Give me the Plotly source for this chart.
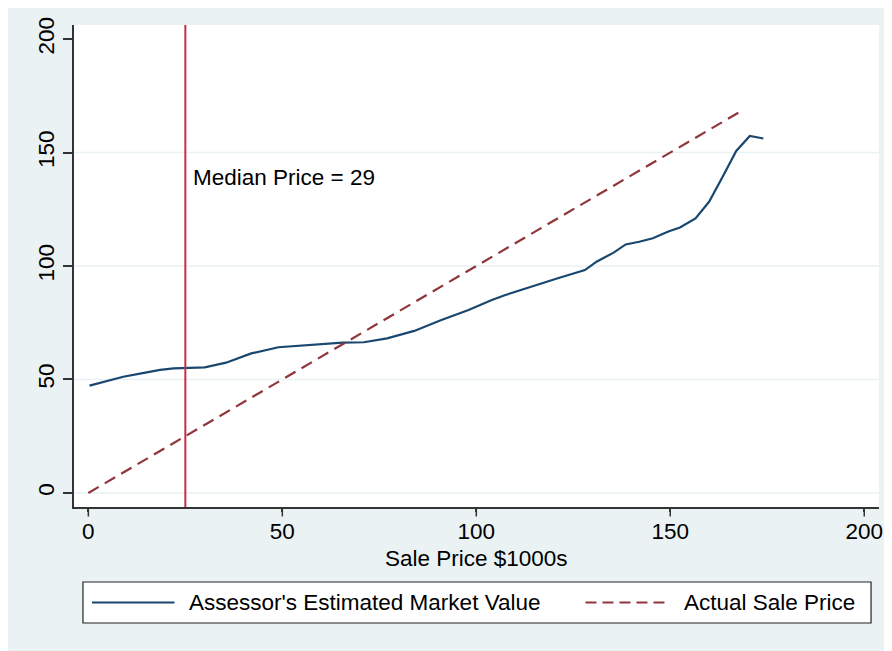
import plotly.graph_objects as go

# ---- data ----
sale_price = [0.3, 5, 9, 14, 18.5, 22, 25, 30, 35.5, 42, 49, 55, 60, 65.5, 71, 77, 84, 91,
              98, 104, 107.5, 114, 121, 128, 131, 135.5, 138.5, 142, 145.5, 149.5, 152.5,
              156.5, 160, 163.5, 167, 170.5, 174]
assessed_value = [47.3, 49.3, 51.2, 52.8, 54.2, 54.9, 55.0, 55.3, 57.4, 61.5, 64.2, 64.9, 65.5,
                  66.2, 66.4, 68.1, 71.4, 76.2, 80.6, 85.0, 87.2, 90.9, 94.6, 98.2, 101.9, 106.0,
                  109.5, 110.7, 112.2, 115.2, 117.0, 121.0, 128.3, 139.3, 150.7, 157.3, 156.2]
actual_x = [0, 168]
actual_y = [0, 168]
median_line_x = 25
median_label = "Median Price = 29"
x_title = "Sale Price $1000s"
x_ticks = [0, 50, 100, 150, 200]
y_ticks = [0, 50, 100, 150, 200]
grid_y = [0, 50, 100, 150]
series_names = ["Assessor's Estimated Market Value", "Actual Sale Price"]

OFF = 8  # page body margin offset
W, H = 892 - OFF, 651 - OFF
L, T = 74 - OFF, 25 - OFF
R = W - (883 - OFF)
B = H - (507 - OFF)
PW = W - L - R
PH = H - T - B

def px_x(p):
    return (p - OFF - L) / PW

def px_y(p):
    return (H - B - (p - OFF)) / PH

BLUE = "#1A476F"
MAROON = "#90353B"
RED = "#C42E47"
BG = "#EAF2F3"
AX = "#333"
FONT = "Liberation Sans, Arial, Helvetica, sans-serif"
FS = 22.5
DASH = "12px,7px"

fig = go.Figure()
fig.add_trace(go.Scatter(x=sale_price, y=assessed_value, mode="lines",
                         line=dict(color=BLUE, width=2.2), name=series_names[0],
                         showlegend=False))
fig.add_trace(go.Scatter(x=actual_x, y=actual_y, mode="lines",
                         line=dict(color=MAROON, width=2.2, dash=DASH), name=series_names[1],
                         showlegend=False))

shapes = []
# white plot area
shapes.append(dict(type="rect", xref="paper", yref="paper", layer="below",
                   x0=0, x1=1, y0=0, y1=1, fillcolor="white", line=dict(width=0)))
# gridlines
for gy in grid_y:
    shapes.append(dict(type="line", xref="paper", yref="y", layer="below",
                       x0=0, x1=1, y0=gy, y1=gy, line=dict(color=BG, width=1.5)))
# longer x tick marks
for tx in x_ticks:
    shapes.append(dict(type="line", xref="x", yref="paper", x0=tx, x1=tx,
                       y0=px_y(507), y1=px_y(516.5), line=dict(color=AX, width=1.5)))
# median vertical line
shapes.append(dict(type="line", xref="x", yref="paper", x0=median_line_x, x1=median_line_x,
                   y0=0, y1=1, line=dict(color=RED, width=2)))
# legend box
shapes.append(dict(type="rect", xref="paper", yref="paper",
                   x0=px_x(83), x1=px_x(875), y0=px_y(623), y1=px_y(582),
                   fillcolor="white", line=dict(color="#222", width=1.2)))
ly = px_y(602.5)
shapes.append(dict(type="line", xref="paper", yref="paper",
                   x0=px_x(92), x1=px_x(175), y0=ly, y1=ly, line=dict(color=BLUE, width=2.2)))
shapes.append(dict(type="line", xref="paper", yref="paper",
                   x0=px_x(588), x1=px_x(672), y0=ly, y1=ly,
                   line=dict(color=MAROON, width=2.2, dash="11px,6px")))

annotations = [
    dict(x=26.5, y=139, xref="x", yref="y", text=median_label, showarrow=False,
         xanchor="left", yanchor="middle", font=dict(size=FS, color="black", family=FONT)),
    dict(x=0.5, y=px_y(558), xref="paper", yref="paper", text=x_title, showarrow=False,
         xanchor="center", yanchor="middle", font=dict(size=FS, color="black", family=FONT)),
    dict(x=px_x(188), y=ly, xref="paper", yref="paper", text=series_names[0], showarrow=False,
         xanchor="left", yanchor="middle", font=dict(size=FS, color="black", family=FONT)),
    dict(x=px_x(685), y=ly, xref="paper", yref="paper", text=series_names[1], showarrow=False,
         xanchor="left", yanchor="middle", font=dict(size=FS, color="black", family=FONT)),
]

fig.update_layout(
    width=W, height=H,
    margin=dict(l=L, r=R, t=T, b=B),
    paper_bgcolor=BG, plot_bgcolor="white",
    font=dict(family=FONT, size=FS, color="black"),
    shapes=shapes, annotations=annotations, showlegend=False,
    xaxis=dict(range=[-3.7, 203.8], tickvals=x_ticks, showgrid=False, zeroline=False,
               showline=True, linecolor=AX, linewidth=1.5, ticks="outside", ticklen=3,
               tickwidth=1.5, tickcolor=AX, tickfont=dict(size=FS)),
    yaxis=dict(range=[-6.2, 206.2], tickvals=y_ticks, showgrid=False, zeroline=False,
               showline=True, linecolor=AX, linewidth=1.5, ticks="outside", ticklen=9,
               tickwidth=1.5, tickcolor=AX, tickangle=-90, tickfont=dict(size=FS)),
)

fig.write_html("out.html")
